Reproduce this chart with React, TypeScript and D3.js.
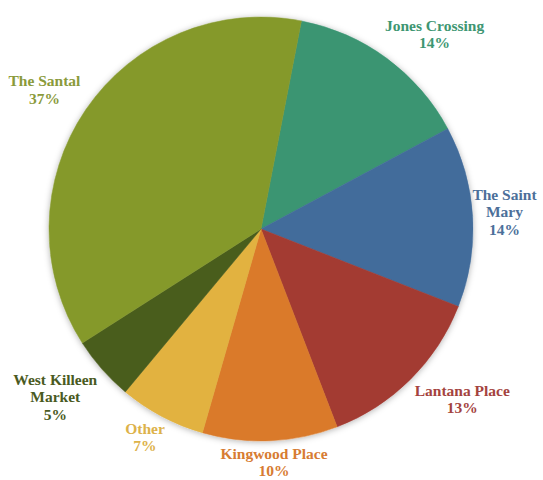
import React, { useEffect, useRef } from "react";
import * as d3 from "d3";

const categories = ["Jones Crossing", "The Saint Mary", "Lantana Place", "Kingwood Place", "Other", "West Killeen Market", "The Santal"];
const values = [14.1, 13.8, 13.2, 10.3, 6.6, 4.9, 37.1];
const labelLines = [["Jones Crossing"], ["The Saint", "Mary"], ["Lantana Place"], ["Kingwood Place"], ["Other"], ["West Killeen", "Market"], ["The Santal"]];
const sliceColors = ["#3A9572", "#436C9B", "#A33B33", "#DA7A2A", "#E2B240", "#4A5D1D", "#85992C"];
const labelColors = ["#3E9672", "#4C6F9A", "#A4433E", "#D77C32", "#DDB24A", "#4A5A22", "#8A9A3B"];
const startDeg = 11;

const W = 543;
const H = 480;

export default function App() {
  const ref = useRef<SVGSVGElement | null>(null);

  useEffect(() => {
    const svg = d3.select(ref.current);
    svg.selectAll("*").remove();
    const cx = 261, cy = 229, r = 212;
    const defs = svg.append("defs");
    const f = defs.append("filter").attr("id", "shadow").attr("x", "-10%").attr("y", "-10%").attr("width", "120%").attr("height", "120%");
    f.append("feDropShadow").attr("dx", 0).attr("dy", 1).attr("stdDeviation", 3).attr("flood-color", "#000").attr("flood-opacity", 0.3);

    const data = categories.map((c, i) => ({ c, v: values[i], i }));
    const start = (startDeg * Math.PI) / 180;
    const pie = d3.pie<any>().value((d: any) => d.v).sort(null).startAngle(start).endAngle(start + 2 * Math.PI);
    const arcs = pie(data);
    const arc = d3.arc<any>().innerRadius(0).outerRadius(r);

    const g = svg.append("g").attr("transform", `translate(${cx},${cy})`);
    const pg = g.append("g").attr("filter", "url(#shadow)");
    pg.selectAll("path")
      .data(arcs)
      .join("path")
      .attr("d", arc as any)
      .attr("fill", (d: any) => sliceColors[d.data.i])
      .attr("stroke", (d: any) => sliceColors[d.data.i])
      .attr("stroke-width", 0.5);

    const fs = 15.5;
    const lh = 17.5;
    const gap = 6;
    const k = 1.5;
    const clamp = (v: number) => Math.max(-1, Math.min(1, v));
    arcs.forEach((a: any) => {
      const i = a.data.i;
      const lines = [...labelLines[i], `${Math.round(a.data.v)}%`];
      const t = g.append("text")
        .attr("font-family", "'Liberation Serif', 'DejaVu Serif', serif")
        .attr("font-weight", "bold")
        .attr("font-size", fs)
        .attr("fill", labelColors[i])
        .attr("text-anchor", "middle");
      lines.forEach((ln, j) => {
        t.append("tspan").attr("x", 0).attr("y", j * lh).text(ln);
      });
      const bb = (t.node() as SVGTextElement).getBBox();
      const w = bb.width;
      const h = lines.length * lh;
      const mid = (a.startAngle + a.endAngle) / 2;
      const s = Math.sin(mid), c = -Math.cos(mid);
      const ax = s * (r + gap);
      const ay = c * (r + gap);
      let bx = ax + clamp(s * k) * w / 2;
      let by = ay + clamp(c * k) * h / 2;
      const minX = 4 - cx + w / 2, maxX = W - 6 - cx - w / 2;
      bx = Math.max(minX, Math.min(maxX, bx));
      let top = by - h / 2;
      const firstBase = top + fs * 0.78;
      const lastBase = firstBase + (lines.length - 1) * lh;
      const shift = Math.max(0, lastBase - (H - cy - 2));
      t.attr("transform", `translate(${bx},${firstBase - shift})`);
    });
  }, []);

  return (
    <svg ref={ref} width={W} height={H} style={{ position: "absolute", left: 0, top: 0, background: "#fff" }} />
  );
}
